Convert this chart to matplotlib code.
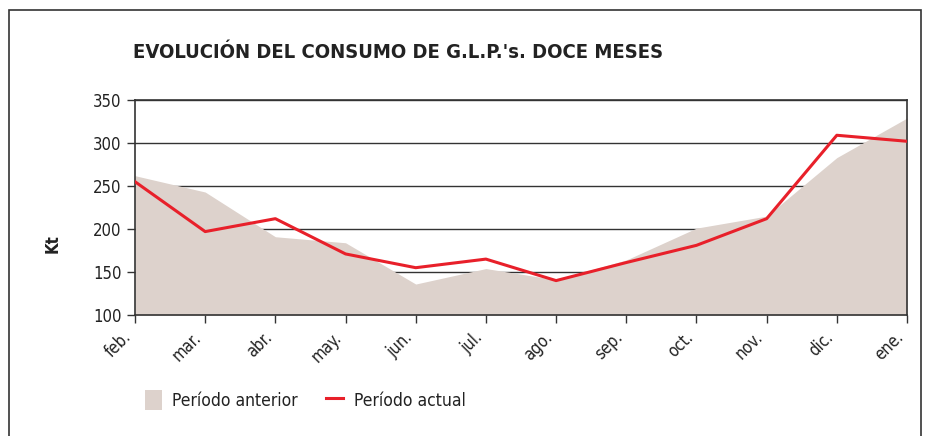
import numpy as np
import matplotlib.pyplot as plt
import matplotlib.transforms as mtransforms
from matplotlib.patches import Rectangle, Patch
from matplotlib.lines import Line2D

plt.rcParams['font.family'] = ['DejaVu Sans']
plt.rcParams['font.stretch'] = 'condensed'

meses = ["feb.", "mar.", "abr.", "may.", "jun.", "jul.", "ago.", "sep.", "oct.", "nov.", "dic.", "ene."]
anterior = [262, 243, 191, 184, 136, 154, 141, 164, 201, 215, 283, 329]
actual = [255, 197, 212, 171, 155, 165, 140, 161, 181, 212, 309, 302]

fill_col = "#ddd2cc"
red = "#e8202a"
dark = "#333333"

fig = plt.figure(figsize=(9.34, 4.36), dpi=100)
ax = fig.add_axes([135/934, 1 - 315/436, (907-135)/934, 215/436])

x = np.arange(len(meses))
ax.fill_between(x, 100, anterior, color=fill_col, linewidth=0, zorder=2)
ax.plot(x, actual, color=red, linewidth=2.2, zorder=3)

ax.set_xlim(0, len(meses) - 1)
ax.set_ylim(100, 350)
ax.set_yticks([100, 150, 200, 250, 300, 350])
ax.yaxis.grid(True, color=dark, linewidth=1, zorder=1)
ax.set_axisbelow(True)

ax.set_xticks(x)
ax.set_xticklabels(meses, rotation=45, ha="right", va="top")
offset = mtransforms.ScaledTranslation(8/100, -5/100, fig.dpi_scale_trans)
for lab in ax.get_xticklabels():
    lab.set_transform(lab.get_transform() + offset)

ax.tick_params(axis="both", colors=dark, labelcolor="#222222", labelsize=12,
               length=6, width=1, direction="out")
for s in ax.spines.values():
    s.set_color(dark)
    s.set_linewidth(1.2)

ax.set_ylabel("Kt", fontsize=12, fontweight="bold", color="#222222")
ax.yaxis.set_label_coords(-73/772, 0.33)

fig.text(133/934, 1 - 52/436, "EVOLUCIÓN DEL CONSUMO DE G.L.P.'s. DOCE MESES",
         fontsize=14.5, fontweight="bold", color="#222222", va="center", ha="left")

# border
fig.add_artist(Rectangle((9/934, -0.05), (921-9)/934, 1 - 10/436 + 0.05,
                         transform=fig.transFigure, fill=False,
                         edgecolor=dark, linewidth=1.2))

handles = [Patch(facecolor=fill_col, edgecolor="none"),
           Line2D([], [], color=red, linewidth=2.2)]
fig.legend(handles, ["Período anterior", "Período actual"], loc="center left",
           bbox_to_anchor=(129/934, 1 - 400/436), ncol=2, frameon=False,
           fontsize=12.5, handlelength=1.0, handleheight=1.4, handletextpad=0.6,
           columnspacing=1.6, labelcolor="#222222")

fig.savefig("out.png", dpi=100)
